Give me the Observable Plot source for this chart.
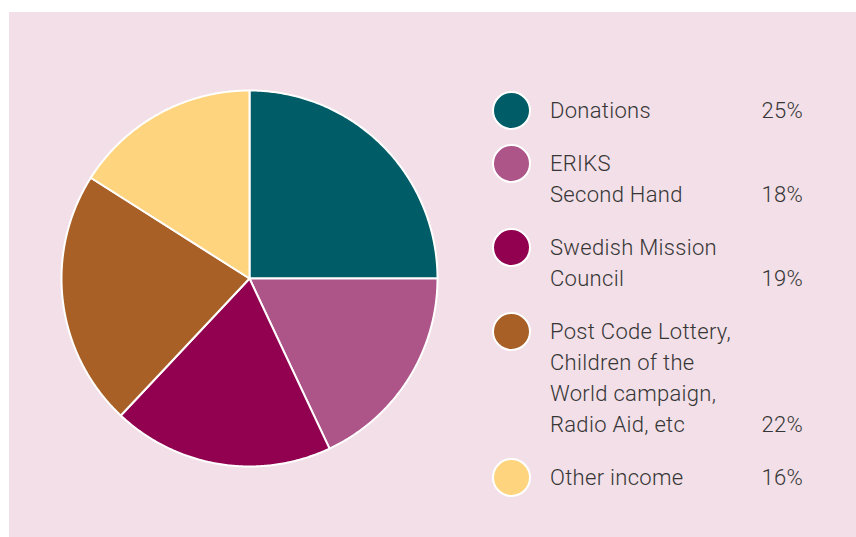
<!DOCTYPE html>
<html>
<head>
<meta charset="utf-8">
<script src="https://cdn.jsdelivr.net/npm/d3@7"></script>
<script src="https://cdn.jsdelivr.net/npm/@observablehq/plot@0.6"></script>
<style>
  html, body { margin: 0; padding: 0; background: #ffffff; }
  #page { position: relative; width: 856px; height: 537px; overflow: hidden; }
  #panel { position: absolute; left: 9px; top: 12px; width: 847px; height: 525px; background: #f2dfe7; }
  #chart { position: absolute; left: 0; top: 0; }
  #legend { position: absolute; left: 550px; top: 95px; width: 253px;
    font-family: Roboto, "Open Sans", sans-serif; font-weight: 300; font-size: 22px;
    letter-spacing: 0.3px; color: #363636; line-height: 31px; }
  .entry { position: relative; margin-bottom: 22px; }
  .swatch { position: absolute; left: -58px; top: -4.5px; width: 35px; height: 35px;
    border-radius: 50%; border: 2px solid #ffffff; }
  .line { white-space: nowrap; position: relative; }
  .pct { position: absolute; right: 0; top: 0; }
</style>
</head>
<body>
<div id="page">
  <div id="panel"></div>
  <div id="chart"></div>
  <div id="legend"></div>
</div>
<script>
const categories = ["Donations", "ERIKS Second Hand", "Swedish Mission Council",
  "Post Code Lottery, Children of the World campaign, Radio Aid, etc", "Other income"];
const labelLines = [
  ["Donations"],
  ["ERIKS", "Second Hand"],
  ["Swedish Mission", "Council"],
  ["Post Code Lottery,", "Children of the", "World campaign,", "Radio Aid, etc"],
  ["Other income"]
];
const values = [25, 18, 19, 22, 16];
const colors = ["#005c66", "#ad5489", "#920050", "#a96026", "#ffd47f"];

// Build slice outlines (angles from the data, clockwise from 12 o'clock)
const total = d3.sum(values);
const pts = [];
let acc = 0;
values.forEach((v, i) => {
  const a0 = acc / total * 2 * Math.PI;
  acc += v;
  const a1 = acc / total * 2 * Math.PI;
  const cat = categories[i];
  pts.push({cat, x: 0, y: 0});
  const n = Math.max(2, Math.ceil((a1 - a0) / (Math.PI / 360)));
  for (let k = 0; k <= n; k++) {
    const a = a0 + (a1 - a0) * k / n;
    pts.push({cat, x: Math.sin(a), y: Math.cos(a)});
  }
  pts.push({cat, x: 0, y: 0});
});

const plot = Plot.plot({
  width: 480,
  height: 537,
  margin: 0,
  style: {background: "transparent", overflow: "visible"},
  x: {domain: [-1, 1], range: [61, 437], axis: null},
  y: {domain: [-1, 1], range: [466, 90], axis: null},
  color: {domain: categories, range: colors},
  marks: [
    Plot.line(pts, {x: "x", y: "y", z: "cat", fill: "cat", stroke: "#ffffff",
      strokeWidth: 2, strokeLinejoin: "round", curve: "linear"})
  ]
});
document.getElementById("chart").appendChild(plot);

const legend = document.getElementById("legend");
categories.forEach((c, i) => {
  const e = document.createElement("div");
  e.className = "entry";
  const sw = document.createElement("div");
  sw.className = "swatch";
  sw.style.background = colors[i];
  e.appendChild(sw);
  labelLines[i].forEach((t, j) => {
    const l = document.createElement("div");
    l.className = "line";
    l.textContent = t;
    if (j === labelLines[i].length - 1) {
      const p = document.createElement("span");
      p.className = "pct";
      p.textContent = values[i] + "%";
      l.appendChild(p);
    }
    e.appendChild(l);
  });
  legend.appendChild(e);
});
</script>
</body>
</html>
